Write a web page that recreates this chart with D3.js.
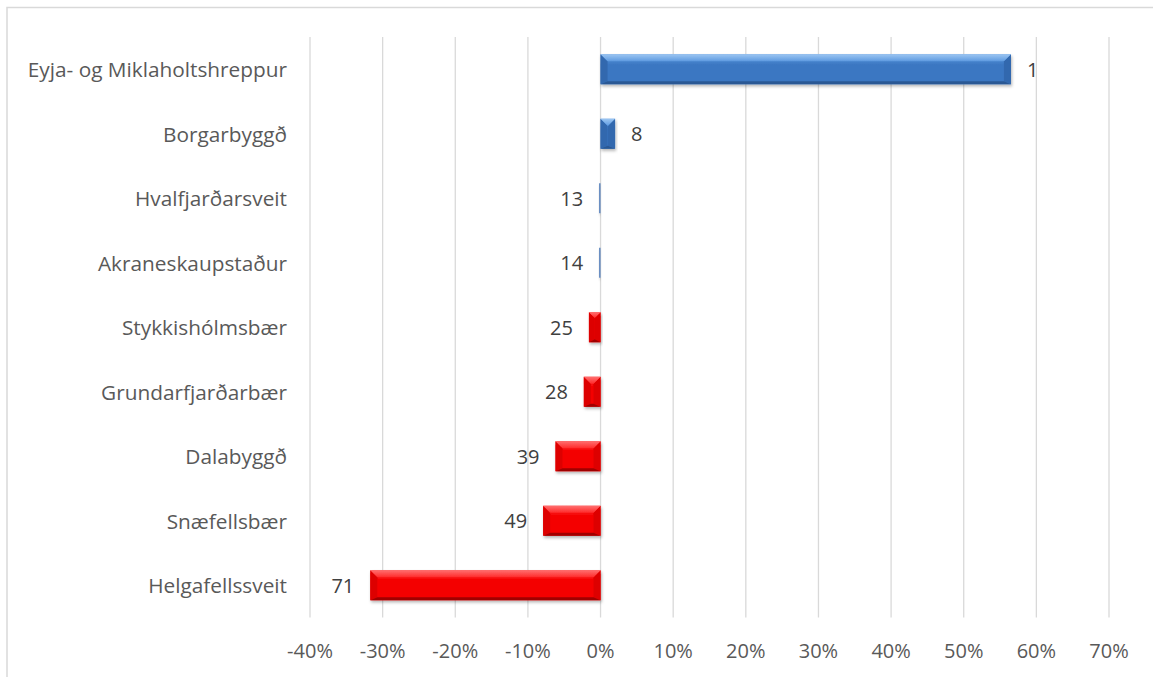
<!DOCTYPE html>
<html>
<head>
<meta charset="utf-8">
<script src="https://cdn.jsdelivr.net/npm/d3@7"></script>
<style>
  html, body { margin: 0; padding: 0; background: #fff; }
  svg { display: block; font-family: "Open Sans", Lato, sans-serif; }
</style>
</head>
<body>
<div id="chart"></div>
<script>
// Municipalities (top to bottom), change in % and rank shown beside each bar
const categories = [
  'Eyja- og Miklaholtshreppur',
  'Borgarbyggð',
  'Hvalfjarðarsveit',
  'Akraneskaupstaður',
  'Stykkishólmsbær',
  'Grundarfjarðarbær',
  'Dalabyggð',
  'Snæfellsbær',
  'Helgafellssveit'
];
const values = [56.5, 2.0, -0.2, -0.2, -1.6, -2.3, -6.2, -7.9, -31.7];
const ranks = [1, 8, 13, 14, 25, 28, 39, 49, 71];
const xTicks = [-40, -30, -20, -10, 0, 10, 20, 30, 40, 50, 60, 70];

const W = 1153, H = 677;
const plot = { left: 310, right: 1109, top: 37, bottom: 617.5 };

const svg = d3.select('#chart').append('svg')
  .attr('width', W).attr('height', H);

// bevel look like the office chart: light top, dark bottom, shaded ends
const PAL = {
  blue: { hi: '#9cc6f2', top: '#5e9ae0', body: '#3b77c2', bot: '#2a5894', side: '#3268ae' },
  red:  { hi: '#ff7070', top: '#ff2a2a', body: '#f40000', bot: '#a00000', side: '#dd0000' }
};

const defs = svg.append('defs');
defs.append('filter').attr('id', 'shadow')
  .attr('x', '-10%').attr('y', '-30%').attr('width', '130%').attr('height', '180%')
  .append('feDropShadow')
  .attr('dx', 1).attr('dy', 2).attr('stdDeviation', 1.6)
  .attr('flood-color', '#000').attr('flood-opacity', 0.28);

Object.entries(PAL).forEach(([k, c]) => {
  const gr = defs.append('linearGradient').attr('id', 'top-' + k)
    .attr('x1', 0).attr('y1', 0).attr('x2', 0).attr('y2', 1);
  gr.append('stop').attr('offset', '0%').attr('stop-color', c.hi);
  gr.append('stop').attr('offset', '100%').attr('stop-color', c.top);
  const gb = defs.append('linearGradient').attr('id', 'body-' + k)
    .attr('x1', 0).attr('y1', 0).attr('x2', 0).attr('y2', 1);
  gb.append('stop').attr('offset', '0%').attr('stop-color', c.top);
  gb.append('stop').attr('offset', '35%').attr('stop-color', c.body);
  gb.append('stop').attr('offset', '100%').attr('stop-color', c.body);
});

// outer frame (right/bottom sides fall outside the picture)
svg.append('rect')
  .attr('x', 7).attr('y', 7.5)
  .attr('width', W).attr('height', H)
  .attr('fill', 'none').attr('stroke', '#d9d9d9').attr('stroke-width', 1.5);

const x = d3.scaleLinear().domain([-40, 70]).range([plot.left, plot.right]);
const y = d3.scaleBand().domain(categories)
  .range([plot.top, plot.bottom])
  .paddingInner(0.535).paddingOuter(0.2675);

// gridlines
svg.append('g').selectAll('line').data(xTicks).join('line')
  .attr('x1', d => x(d)).attr('x2', d => x(d))
  .attr('y1', plot.top).attr('y2', plot.bottom)
  .attr('stroke', '#d9d9d9').attr('stroke-width', 1.3);

// x tick labels
svg.append('g').selectAll('text').data(xTicks).join('text')
  .attr('x', d => x(d)).attr('y', 650)
  .attr('text-anchor', 'middle').attr('dominant-baseline', 'central')
  .attr('fill', '#595959').attr('font-size', '20px')
  .text(d => d + '%');

// category labels
svg.append('g').selectAll('text').data(categories).join('text')
  .attr('x', 287).attr('y', d => y(d) + y.bandwidth() / 2)
  .attr('text-anchor', 'end').attr('dominant-baseline', 'central')
  .attr('fill', '#595959').attr('font-size', '20.8px')
  .text(d => d);

// bars
const rows = categories.map((c, i) => ({ name: c, value: values[i], rank: ranks[i] }));
const colourOf = d => d.value > -0.5 ? 'blue' : 'red';

const bars = svg.append('g').selectAll('g').data(rows).join('g')
  .attr('filter', 'url(#shadow)');

bars.each(function (d) {
  const g = d3.select(this);
  const k = colourOf(d), c = PAL[k];
  const x0 = Math.min(x(0), x(d.value)), x1 = Math.max(x(0), x(d.value));
  const y0 = y(d.name), y1 = y0 + y.bandwidth();
  const w = x1 - x0;

  if (w < 3) {
    // near-zero change: just a thin line at the axis
    g.append('rect').attr('x', x0).attr('y', y0).attr('width', Math.max(w, 1.2)).attr('height', y1 - y0)
      .attr('fill', '#5f87bf');
    return;
  }
  const bt = Math.min(7, w / 2), bb = Math.min(3, w / 2), bs = Math.min(7, w / 2);
  const poly = pts => pts.map(p => p.join(',')).join(' ');

  g.append('rect').attr('x', x0).attr('y', y0).attr('width', w).attr('height', y1 - y0)
    .attr('fill', `url(#body-${k})`);
  // end bevels
  g.append('polygon').attr('points', poly([[x0, y0], [x0 + bs, y0 + bt], [x0 + bs, y1 - bb], [x0, y1]]))
    .attr('fill', c.side);
  g.append('polygon').attr('points', poly([[x1, y0], [x1 - bs, y0 + bt], [x1 - bs, y1 - bb], [x1, y1]]))
    .attr('fill', c.side);
  // top and bottom bevels
  g.append('polygon').attr('points', poly([[x0, y0], [x1, y0], [x1 - bs, y0 + bt], [x0 + bs, y0 + bt]]))
    .attr('fill', `url(#top-${k})`);
  g.append('polygon').attr('points', poly([[x0, y1], [x1, y1], [x1 - bs, y1 - bb], [x0 + bs, y1 - bb]]))
    .attr('fill', c.bot);
});

// rank labels
svg.append('g').selectAll('text').data(rows).join('text')
  .attr('x', d => d.value >= 0 ? x(d.value) + 16 : x(d.value) - 16)
  .attr('y', d => y(d.name) + y.bandwidth() / 2)
  .attr('text-anchor', d => d.value >= 0 ? 'start' : 'end')
  .attr('dominant-baseline', 'central')
  .attr('fill', '#404040').attr('font-size', '20px')
  .text(d => d.rank);
</script>
</body>
</html>
